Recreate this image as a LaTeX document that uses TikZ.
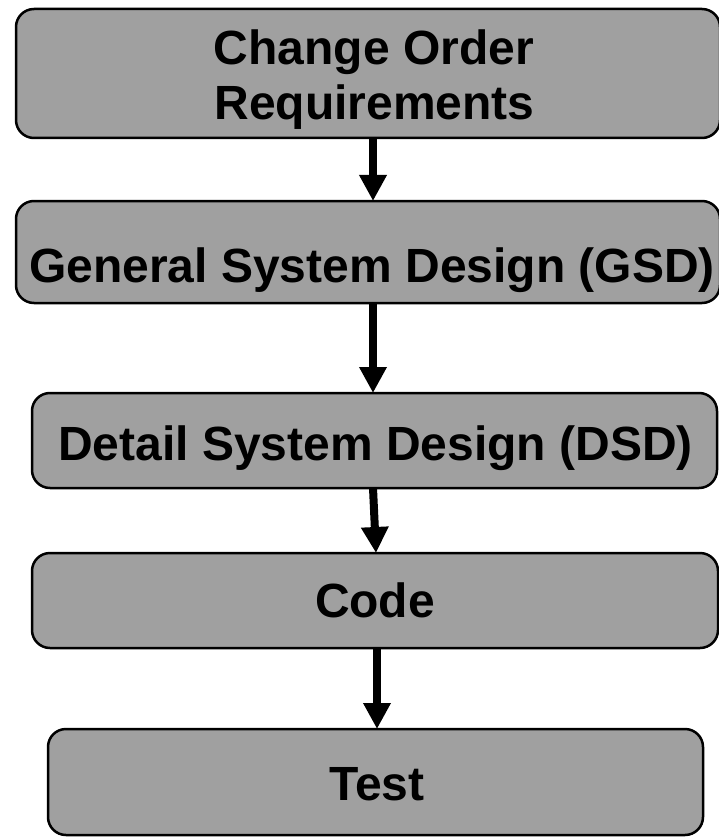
\documentclass[tikz,border=0pt]{standalone}
\usepackage{fontspec}
\setmainfont{Liberation Sans}
\usetikzlibrary{arrows.meta}
\definecolor{boxgray}{HTML}{A0A0A0}
\begin{document}
\begin{tikzpicture}[x=1pt,y=-1pt,
  stepbox/.style={draw=black,line width=2.5pt,fill=boxgray,rounded corners=18pt,
    rectangle,inner sep=0pt,outer sep=0pt},
  lbl/.style={anchor=base,inner sep=0pt,font=\fontsize{48}{55}\selectfont\bfseries},
  arr/.style={line width=8pt,-{Triangle[width=26pt,length=26pt]}}]
\clip (0,0) rectangle (719,837);
\node[stepbox,minimum width=704pt,minimum height=129pt] (b1) at (368,73.5) {};
\node[stepbox,minimum width=704pt,minimum height=102pt] (b2) at (368,252) {};
\node[stepbox,minimum width=685pt,minimum height=95pt] (b3) at (374.5,440.5) {};
\node[stepbox,minimum width=686pt,minimum height=95pt] (b4) at (375,600.5) {};
\node[stepbox,minimum width=655pt,minimum height=106pt] (b5) at (375.5,782) {};
\node[lbl] (t1a) at (374,65) {Change Order};
\node[lbl] (t1b) at (374.5,120) {Requirements};
\node[lbl] (t2) at (372,282) {General System Design (GSD)};
\node[lbl] (t3) at (375.5,460) {Detail System Design (DSD)};
\node[lbl] (t4) at (375,617) {Code};
\node[lbl] (t5) at (377,800) {Test};
\coordinate (xa) at (373,0);
\coordinate (xb) at (376,0);
\coordinate (xc) at (377,0);
\draw[arr] (b1.south -| xa) -- (b2.north -| xa);
\draw[arr] (b2.south -| xa) -- (b3.north -| xa);
\draw[arr] (b3.south -| xa) -- (b4.north -| xb);
\draw[arr] (b4.south -| xc) -- (b5.north -| xc);
\end{tikzpicture}
\end{document}
